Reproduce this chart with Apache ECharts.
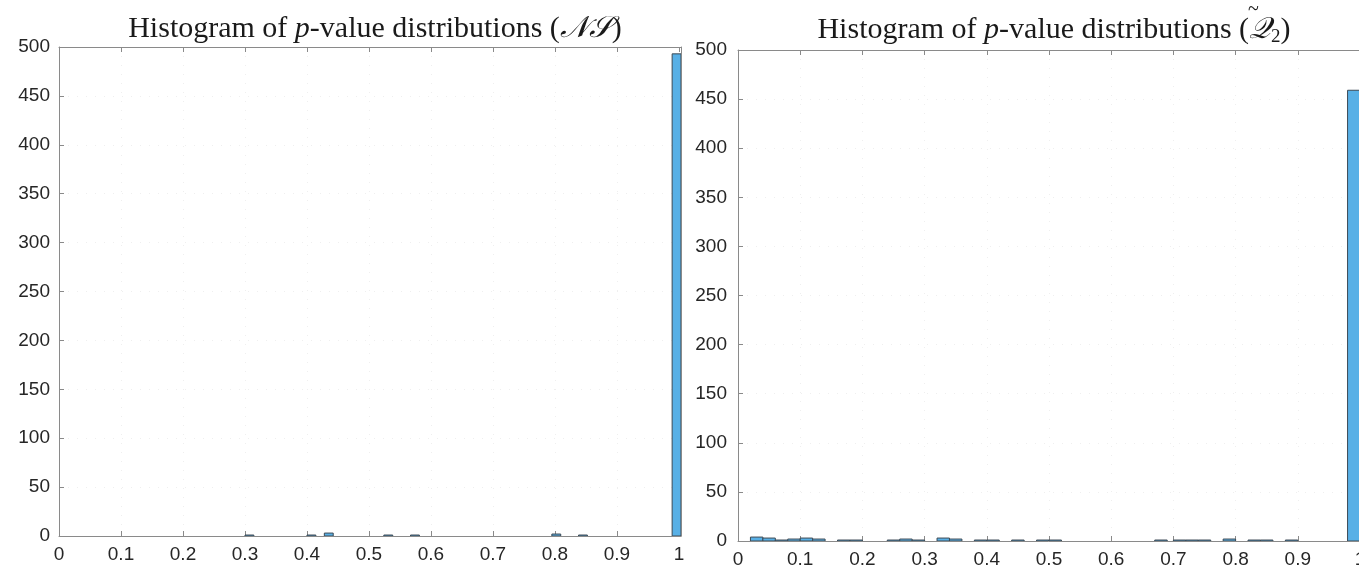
<!DOCTYPE html>
<html>
<head>
<meta charset="utf-8">
<script src="https://cdn.jsdelivr.net/npm/echarts@6/dist/echarts.min.js"></script>
<style>
html,body{margin:0;padding:0;background:#fff;}
#c{width:1359px;height:566px;}
</style>
</head>
<body>
<div id="c"></div>
<script>
// ---- data ----
const xTickLabels = ['0','0.1','0.2','0.3','0.4','0.5','0.6','0.7','0.8','0.9','1'];
const yTickLabels = ['0','50','100','150','200','250','300','350','400','450','500'];

// Left histogram (NS): bin start, bin width, counts
const nsBinWidth = 0.0143;
const nsBinStart = [0.300, 0.400, 0.428, 0.524, 0.567, 0.795, 0.838, 0.989];
const nsCounts   = [1,     1,     3,     1,     1,     2,     1,     493];

// Right histogram (Q2): bin start, bin width, counts
const q2BinWidth = 0.02;
const q2BinStart = [0.02,0.04,0.06,0.08,0.10,0.12,0.16,0.18,0.24,0.26,0.28,0.32,0.34,0.38,0.40,0.44,0.48,0.50,0.67,0.70,0.72,0.74,0.78,0.82,0.84,0.88,0.98];
const q2Counts   = [4,   3,   1,   2,   3,   2,   1,   1,   1,   2,   1,   3,   2,   1,   1,   1,   1,   1,   1,   1,   1,   1,   2,   1,   1,   1,   459];

function binsToData(starts, width, counts){
  return starts.map((s,i)=>[s, s+width, counts[i]]);
}

const chart = echarts.init(document.getElementById('c'), null, {renderer:'canvas'});

const axisColor = '#8a8a8a';
const labelColor = '#262626';
const labelFont = 'Liberation Sans';
const titleFont = 'Liberation Serif';
const titleSize = 30, subSize = 19;

function renderBar(params, api){
  const p0 = api.coord([api.value(0), api.value(2)]);
  const p1 = api.coord([api.value(1), 0]);
  return {
    type:'rect',
    shape:{x:p0[0], y:p0[1], width:p1[0]-p0[0], height:p1[1]-p0[1]},
    style:{fill:'#58b0e6', stroke:'#3c4a55', lineWidth:1}
  };
}

function xAxes(gridIndex, max){
  return [
    {type:'value', gridIndex, min:0, max, interval:0.1, position:'bottom',
     axisLine:{show:true, onZero:false, lineStyle:{color:axisColor, width:1}},
     axisTick:{show:true, inside:true, length:5, lineStyle:{color:axisColor}},
     axisLabel:{show:true, color:labelColor, fontFamily:labelFont, fontSize:19, margin:9,
       showMaxLabel: max === 1 ? true : false,
       formatter:(v)=>{const i=Math.round(v*10); return Math.abs(v*10-i)<1e-6 ? xTickLabels[i] : '';}},
     splitLine:{show:true, lineStyle:{color:'#efefef', type:[1,8]}}},
    {type:'value', gridIndex, min:0, max, interval:0.1, position:'top',
     axisLine:{show:true, onZero:false, lineStyle:{color:axisColor, width:1}},
     axisTick:{show:true, inside:true, length:5, lineStyle:{color:axisColor}},
     axisLabel:{show:false}, splitLine:{show:false}}
  ];
}
function yAxes(gridIndex, labelMargin){
  return [
    {type:'value', gridIndex, min:0, max:500, interval:50, position:'left',
     axisLine:{show:true, onZero:false, lineStyle:{color:axisColor, width:1}},
     axisTick:{show:true, inside:true, length:5, lineStyle:{color:axisColor}},
     axisLabel:{show:true, color:labelColor, fontFamily:labelFont, fontSize:19, margin:labelMargin,
       formatter:(v)=>yTickLabels[Math.round(v/50)]},
     splitLine:{show:true, lineStyle:{color:'#efefef', type:[1,8]}}},
    {type:'value', gridIndex, min:0, max:500, interval:50, position:'right',
     axisLine:{show:true, onZero:false, lineStyle:{color:axisColor, width:1}},
     axisTick:{show:true, inside:true, length:5, lineStyle:{color:axisColor}},
     axisLabel:{show:false}, splitLine:{show:false}}
  ];
}

const titleRich = {
  n:{fontFamily:titleFont, fontWeight:'normal', fontSize:titleSize, color:'#1a1a1a'},
  i:{fontFamily:titleFont, fontWeight:'normal', fontStyle:'italic', fontSize:titleSize, color:'#1a1a1a'},
  s:{fontFamily:titleFont, fontWeight:'normal', fontSize:subSize, color:'#1a1a1a', verticalAlign:'bottom', padding:[14,0,0,0]}
};

// measure where the Q sits in the right title, to put its tilde above it
const mctx = document.createElement('canvas').getContext('2d');
function mw(t, style, size){ mctx.font = style + ' normal ' + size + 'px "' + titleFont + '"'; return mctx.measureText(t).width; }
const rightCenter = 1049;
const wA = mw('Histogram of ', 'normal', titleSize), wP = mw('p', 'italic', titleSize),
      wB = mw('-value distributions (', 'normal', titleSize), wQ = mw('𝒬', 'italic', titleSize),
      wS = mw('2', 'normal', subSize), wC = mw(')', 'normal', titleSize);
const totalW = wA + wP + wB + wQ + wS + wC;
const qCenter = rightCenter - totalW/2 + wA + wP + wB + wQ/2;

chart.setOption({
  animation:false,
  backgroundColor:'#ffffff',
  title:[
    {text:'{n|Histogram of }{i|p}{n|-value distributions (}{i|𝒩𝒮}{n|)}', left:370, top:9, textAlign:'center',
     textStyle:{fontWeight:'normal', rich:titleRich}},
    {text:'{n|Histogram of }{i|p}{n|-value distributions (}{i|𝒬}{s|2}{n|)}', left:rightCenter, top:9, textAlign:'center',
     textStyle:{fontWeight:'normal', rich:titleRich}}
  ],
  graphic:[
    {type:'text', left: qCenter - 7, top: 0, z:100,
     style:{text:'~', fontFamily:titleFont, fontSize:20, fill:'#1a1a1a'}}
  ],
  grid:[
    {left:59, top:47, width:622, height:489, outerBoundsMode:'none', containLabel:false},
    {left:738, top:50, width:622, height:491, outerBoundsMode:'none', containLabel:false}
  ],
  xAxis:[...xAxes(0, 1.0033), ...xAxes(1, 1)],
  yAxis:[...yAxes(0, 9), ...yAxes(1, 11)],
  series:[
    {type:'custom', xAxisIndex:0, yAxisIndex:0, renderItem:renderBar,
     encode:{x:[0,1], y:2}, data:binsToData(nsBinStart, nsBinWidth, nsCounts), clip:true},
    {type:'custom', xAxisIndex:2, yAxisIndex:2, renderItem:renderBar,
     encode:{x:[0,1], y:2}, data:binsToData(q2BinStart, q2BinWidth, q2Counts), clip:true}
  ]
});
</script>
</body>
</html>
